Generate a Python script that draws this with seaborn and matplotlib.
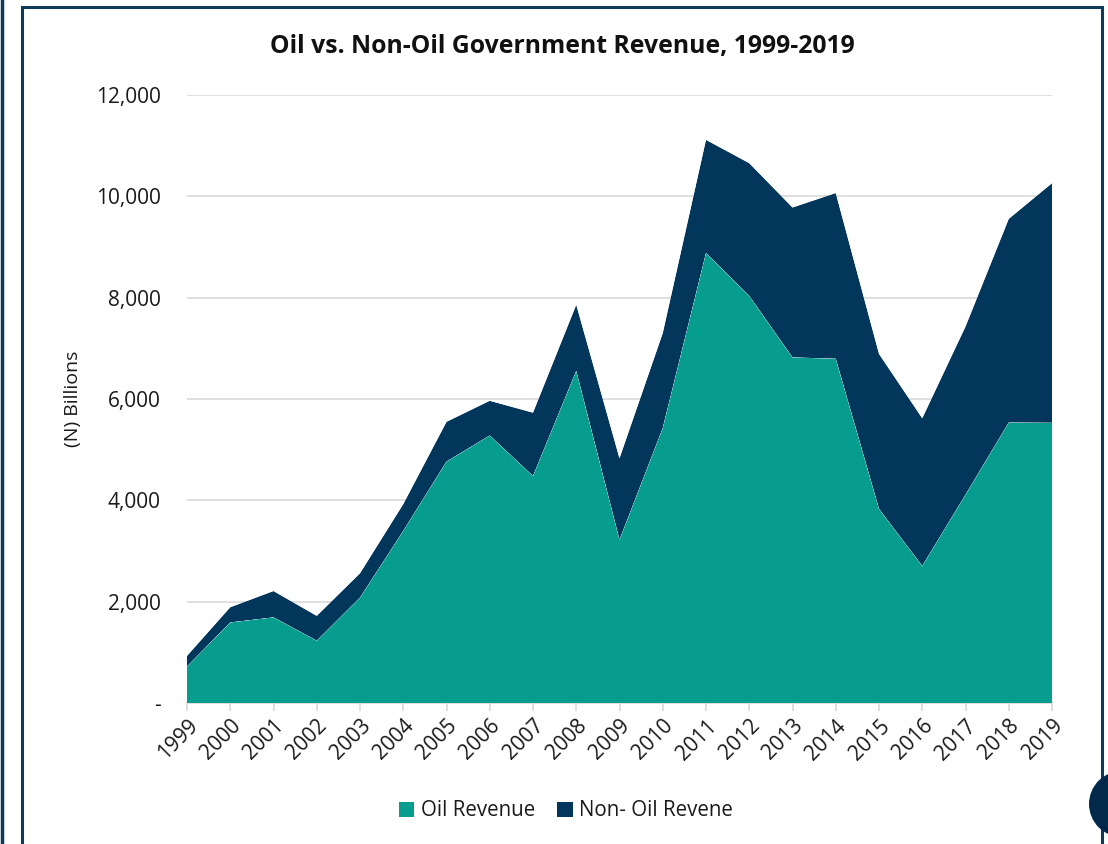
import matplotlib
matplotlib.use("Agg")
import matplotlib.pyplot as plt
from matplotlib.patches import Rectangle, Circle, Patch
from matplotlib.ticker import FuncFormatter
import numpy as np
import pandas as pd
import seaborn as sns
import seaborn.objects as so

# Federal government revenue, N billions
years = list(range(1999, 2020))
oil_revenue = [720, 1590, 1690, 1230, 2080, 3395, 4765, 5280, 4480, 6555,
               3220, 5425, 8880, 8035, 6820, 6795, 3830, 2705, 4110, 5535, 5530]
non_oil_revenue = [210, 300, 520, 490, 480, 530, 785, 685, 1250, 1305,
                   1610, 1875, 2235, 2620, 2960, 3270, 3060, 2915, 3320, 4020, 4730]

series_names = ["Oil Revenue", "Non- Oil Revene"]
series_colors = ["#069c8e", "#02365a"]
frame_color = "#0c3b5a"

sns.set_theme(style="white")
plt.rcParams["font.family"] = ["Open Sans", "DejaVu Sans"]

df = pd.DataFrame({
    "year": years * 2,
    "value": oil_revenue + non_oil_revenue,
    "series": [series_names[0]] * len(years) + [series_names[1]] * len(years),
})

fig = plt.figure(figsize=(11.08, 8.44), dpi=100)
ax = fig.add_axes([187 / 1108, 141 / 844, 865 / 1108, 608 / 844])

(
    so.Plot(df, x="year", y="value", color="series")
    .add(so.Area(alpha=1, edgewidth=0), so.Stack(), legend=False)
    .scale(color=dict(zip(series_names, series_colors)))
    .on(ax)
    .plot()
)

ax.set_xlim(years[0], years[-1])
ax.set_ylim(0, 12000)
ax.set_yticks(np.arange(0, 12001, 2000))
ax.yaxis.set_major_formatter(FuncFormatter(lambda v, p: "-" if v == 0 else f"{v:,.0f}"))
ax.set_xticks(years)
ax.set_xticklabels([str(y) for y in years], rotation=45, ha="right", rotation_mode="anchor")
ax.grid(axis="y", color="#d9d9d9", linewidth=1.2)
ax.grid(axis="x", visible=False)
ax.set_axisbelow(True)
for side in ["top", "right", "left"]:
    ax.spines[side].set_visible(False)
ax.spines["bottom"].set_visible(True)
ax.spines["bottom"].set_color("#d9d9d9")
ax.spines["bottom"].set_linewidth(1.2)
ax.spines["bottom"].set_zorder(0.5)
ax.tick_params(axis="x", bottom=True, length=6, width=1.2, color="#d9d9d9",
               labelsize=15, labelcolor="#1a1a1a", pad=3)
ax.tick_params(axis="y", left=False, labelsize=15, labelcolor="#1a1a1a", pad=13)
ax.set_xlabel("")
ax.set_ylabel("(N) Billions", fontsize=14, color="#1a1a1a", labelpad=10)

fig.text(562 / 1108, 1 - 46 / 844, "Oil vs. Non-Oil Government Revenue, 1999-2019",
         ha="center", va="center", fontsize=17.8, fontweight="bold", color="#111111")

handles = [Patch(facecolor=c, edgecolor="none") for c in series_colors]
fig.legend(handles, series_names, loc="center", bbox_to_anchor=(566 / 1108, 1 - 811 / 844),
           ncol=2, frameon=False, fontsize=14.8, handlelength=0.75, handleheight=0.75,
           handletextpad=0.3, columnspacing=1.1, labelcolor="#1a1a1a")

# Page frame
fig.add_artist(Rectangle((22 / 1108, -0.05), 1080 / 1108, (844 - 7) / 844 + 0.05,
                         transform=fig.transFigure, fill=False, edgecolor=frame_color,
                         linewidth=2.2))
fig.add_artist(plt.Line2D([1.5 / 1108, 1.5 / 1108], [0, 1], transform=fig.transFigure,
                          color=frame_color, linewidth=2.5))
fig.add_artist(Circle((1122, 844 - 804), 33, transform=None, facecolor="#02284a",
                      edgecolor="none"))

fig.savefig("out.png", dpi=100, facecolor="white")
